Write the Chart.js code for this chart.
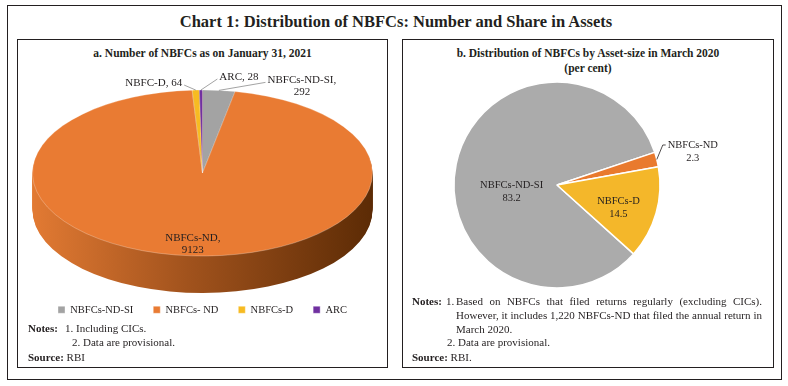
<!DOCTYPE html>
<html>
<head>
<meta charset="utf-8">
<script src="https://cdn.jsdelivr.net/npm/chart.js@4.4.1/dist/chart.umd.min.js"></script>
<style>
    body { margin: 0; background: #fff; font-family: 'Liberation Serif', serif; color: #231f20; }
    .box { position: absolute; box-sizing: border-box; border: 1.5px solid #231f20; }
    .t { position: absolute; white-space: nowrap; }
    #title { left: 0; width: 792px; top: 12px; text-align: center; font-size: 16.5px; font-weight: bold; }
    .sub { top: 46px; text-align: center; font-size: 11.5px; font-weight: bold; line-height: 15px; }
    .note { font-size: 11px; line-height: 14px; }
    .just { display: block; text-align: justify; text-align-last: justify; }
    canvas { position: absolute; }
</style>
</head>
<body>
<div class="box" style="left:7px;top:5px;width:775px;height:375px;"></div>
<div class="box" style="left:17px;top:39px;width:371px;height:329px;border-width:1.2px;"></div>
<div class="box" style="left:402px;top:39px;width:372px;height:329px;border-width:1.2px;"></div>

<div id="title" class="t">Chart 1: Distribution of NBFCs: Number and Share in Assets</div>
<div class="t sub" style="left:17px;width:371px;">a. Number of NBFCs as on January 31, 2021</div>
<div class="t sub" style="left:402px;width:372px;">b. Distribution of NBFCs by Asset-size in March 2020<br>(per cent)</div>

<canvas id="numberChart" width="371" height="265" style="left:17px;top:60px;"></canvas>
<canvas id="assetChart" width="371" height="230" style="left:402px;top:70px;"></canvas>

<div class="t note" style="left:28px;top:321px;"><b>Notes:</b></div>
<div class="t note" style="left:65px;top:321px;">1. Including CICs.</div>
<div class="t note" style="left:72px;top:335px;">2. Data are provisional.</div>
<div class="t note" style="left:28px;top:350px;"><b>Source:</b> RBI</div>

<div class="t note" style="left:412px;top:294px;"><b>Notes:</b></div>
<div class="t note" style="left:446px;top:294px;">1.</div>
<div class="note" style="position:absolute;left:456px;top:294px;width:306px;">
    <span class="just">Based on NBFCs that filed returns regularly (excluding CICs).</span>
    <span class="just">However, it includes 1,220 NBFCs-ND that filed the annual return in</span>
    <span style="display:block;">March 2020.</span>
</div>
<div class="t note" style="left:447px;top:335px;">2. Data are provisional.</div>
<div class="t note" style="left:412px;top:350px;"><b>Source:</b> RBI.</div>

<script>
// a. number of NBFCs, January 31, 2021
const numberCategories = ['NBFCs-ND-SI', 'NBFCs- ND', 'NBFCs-D', 'ARC'];
const numberLabels = ['NBFCs-ND-SI,', 'NBFCs-ND,', 'NBFC-D,', 'ARC,'];
const numberValues = [292, 9123, 64, 28];

// b. share in assets, March 2020 (per cent)
const assetCategories = ['NBFCs-ND-SI', 'NBFCs-ND', 'NBFCs-D'];
const assetValues = [83.2, 2.3, 14.5];

const FONT = '"Liberation Serif", "DejaVu Serif", serif';
const INK = '#231f20';

// squashes the pie into an ellipse and draws the side of the disc
const tiltPlugin = {
    id: 'tilt',
    beforeDatasetsDraw(chart, args, opts) {
        if (!opts.ratio) return;
        const arcs = chart.getDatasetMeta(0).data;
        const area = chart.chartArea;
        const {x: cx, y: cy, outerRadius: r} = arcs[0];
        const k = opts.ratio;
        const cyT = (area.top + area.bottom) / 2 - opts.depth / 2;
        chart.$tilt = {cy, cyT, k};
        const ctx = chart.ctx;

        const grad = ctx.createLinearGradient(cx - r, 0, cx + r, 0);
        grad.addColorStop(0, opts.sideFrom);
        grad.addColorStop(0.45, opts.sideMid);
        grad.addColorStop(1, opts.sideTo);
        for (let d = opts.depth; d > 0; d--) {
            ctx.save();
            ctx.translate(0, cyT - cy * k + d);
            ctx.scale(1, k);
            ctx.fillStyle = grad;
            arcs.forEach(a => {
                ctx.beginPath();
                ctx.moveTo(a.x, a.y);
                ctx.arc(a.x, a.y, a.outerRadius, a.startAngle, a.endAngle);
                ctx.closePath();
                ctx.fill();
            });
            ctx.restore();
        }
        ctx.save();
        ctx.translate(0, cyT - cy * k);
        ctx.scale(1, k);
    },
    afterDatasetsDraw(chart, args, opts) {
        if (opts.ratio) chart.ctx.restore();
    }
};

const sliceLabels = {
    id: 'sliceLabels',
    afterDatasetsDraw(chart, args, opts) {
        const ctx = chart.ctx;
        const t = chart.$tilt;
        const project = (x, y) => t ? [x, t.cyT + (y - t.cy) * t.k] : [x, y];
        ctx.save();
        ctx.font = opts.font;
        ctx.fillStyle = INK;
        ctx.textAlign = 'center';
        ctx.textBaseline = 'middle';
        chart.getDatasetMeta(0).data.forEach((arc, i) => {
            const place = opts.places[i];
            const lines = opts.text(i);
            const mid = (arc.startAngle + arc.endAngle) / 2;
            const rr = arc.outerRadius * (place.frac || 1);
            const [ex, ey] = project(arc.x + Math.cos(mid) * rr, arc.y + Math.sin(mid) * rr);
            const lx = ex + (place.dx || 0);
            const ly = ey + (place.dy || 0);
            const y0 = ly - (lines.length - 1) * opts.lineHeight / 2;
            lines.forEach((s, j) => ctx.fillText(s, lx, y0 + j * opts.lineHeight));
            if (place.leader) {
                const w = ctx.measureText(lines[0]).width / 2 + 2;
                const tx = lx > ex ? lx - w : lx + w;
                ctx.beginPath();
                ctx.moveTo(ex, ey);
                if (place.elbow) ctx.lineTo(ex + place.elbow, y0);
                ctx.lineTo(tx, y0 + (place.elbow ? 0 : 2));
                ctx.strokeStyle = opts.leaderColor;
                ctx.lineWidth = 0.8;
                ctx.stroke();
            }
        });
        ctx.restore();
    }
};

new Chart(document.getElementById('numberChart'), {
    type: 'pie',
    data: {
        labels: numberCategories,
        datasets: [{
            data: numberValues,
            backgroundColor: ['#a3a3a3', '#e97b33', '#f7bb22', '#7030a0'],
            borderColor: 'rgba(255,255,255,0.6)',
            borderWidth: 0.6,
            clip: false
        }]
    },
    options: {
        responsive: false,
        animation: false,
        events: [],
        radius: 170,
        rotation: 0,
        layout: { padding: { top: 38.5 } },
        plugins: {
            tooltip: { enabled: false },
            legend: {
                position: 'bottom',
                labels: {
                    boxWidth: 7,
                    boxHeight: 7,
                    padding: 20,
                    color: INK,
                    font: { family: FONT, size: 10.5 }
                }
            },
            tilt: { ratio: 83 / 170, depth: 37, sideFrom: '#e27a33', sideMid: '#a2531d', sideTo: '#5c2b05' },
            sliceLabels: {
                font: '11px ' + FONT,
                lineHeight: 12,
                leaderColor: '#8c8c8c',
                text: i => i < 2
                    ? [numberLabels[i], String(numberValues[i])]
                    : [numberLabels[i] + ' ' + numberValues[i]],
                places: [
                    { dx: 83, dy: -4, leader: true },
                    { frac: 0.86 },
                    { dx: -42, dy: -7, leader: true },
                    { dx: 38, dy: -13, leader: true }
                ]
            }
        }
    },
    plugins: [tiltPlugin, sliceLabels]
});

new Chart(document.getElementById('assetChart'), {
    type: 'pie',
    data: {
        labels: assetCategories,
        datasets: [{
            data: assetValues,
            backgroundColor: ['#ababab', '#e97a2e', '#f4b72a'],
            borderColor: '#ffffff',
            borderWidth: 1.5
        }]
    },
    options: {
        responsive: false,
        animation: false,
        events: [],
        radius: 103,
        rotation: 132,
        layout: { padding: { right: 61 } },
        plugins: {
            tooltip: { enabled: false },
            legend: { display: false },
            sliceLabels: {
                font: '10.5px ' + FONT,
                lineHeight: 13,
                leaderColor: '#231f20',
                text: i => [assetCategories[i], String(assetValues[i])],
                places: [
                    { frac: 0.45, dx: 0, dy: 16 },
                    { dx: 36, dy: -8, leader: true, elbow: 6 },
                    { frac: 0.6, dx: 2, dy: 6 }
                ]
            }
        }
    },
    plugins: [tiltPlugin, sliceLabels]
});
</script>
</body>
</html>
